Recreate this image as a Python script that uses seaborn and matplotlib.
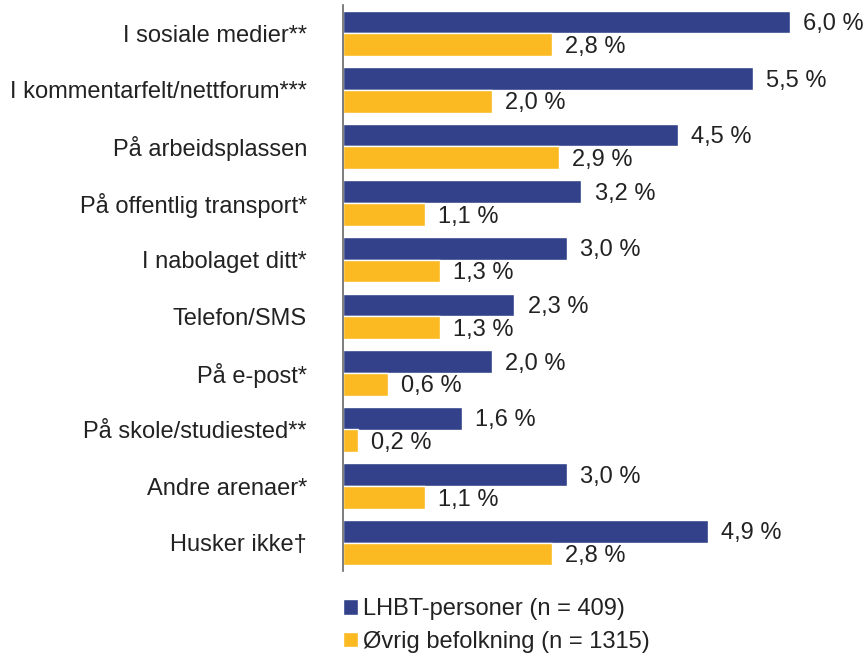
import matplotlib
matplotlib.use("Agg")
import matplotlib.pyplot as plt
import seaborn as sns
import pandas as pd

categories = [
    "I sosiale medier**",
    "I kommentarfelt/nettforum***",
    "På arbeidsplassen",
    "På offentlig transport*",
    "I nabolaget ditt*",
    "Telefon/SMS",
    "På e-post*",
    "På skole/studiested**",
    "Andre arenaer*",
    "Husker ikke†",
]
lhbt = [6.0, 5.5, 4.5, 3.2, 3.0, 2.3, 2.0, 1.6, 3.0, 4.9]
ovrig = [2.8, 2.0, 2.9, 1.1, 1.3, 1.3, 0.6, 0.2, 1.1, 2.8]
series = ["LHBT-personer (n = 409)", "Øvrig befolkning (n = 1315)"]
colors = ["#33418A", "#FBBA22"]

rows = []
for c, a, b in zip(categories, lhbt, ovrig):
    rows.append({"cat": c, "val": a, "grp": series[0]})
    rows.append({"cat": c, "val": b, "grp": series[1]})
df = pd.DataFrame(rows)

sns.set_theme(style="white")
plt.rcParams["font.family"] = ["Liberation Sans", "DejaVu Sans"]

FS = 17
fig = plt.figure(figsize=(8.66, 6.54), dpi=100)
ax = fig.add_axes([343/866, 1 - 571/654, 1 - 343/866, (571 - 5)/654])

sns.barplot(data=df, y="cat", x="val", hue="grp", order=categories,
            hue_order=series, palette=colors, width=0.8, saturation=1,
            orient="h", ax=ax, legend=True)

ax.set_xlim(0, (866 - 343) / 74.5)
ax.set_ylim(9.5, -0.5)
ax.set_xlabel("")
ax.set_ylabel("")
ax.set_xticks([])
ax.tick_params(axis="y", length=0, pad=26, labelsize=FS, labelcolor="#222222")
for lbl in ax.get_yticklabels():
    lbl.set_va("center_baseline")
for s in ["top", "right", "bottom"]:
    ax.spines[s].set_visible(False)
ax.spines["left"].set_color("#666666")
ax.spines["left"].set_linewidth(1.2)

for cont in ax.containers:
    for bar, v in zip(cont, cont.datavalues):
        y = bar.get_y() + bar.get_height() / 2
        ax.annotate(f"{v:.1f} %".replace(".", ","), xy=(v, y),
                    xytext=(9.5, -1.5), textcoords="offset points",
                    ha="left", va="center", fontsize=FS, color="#222222",
                    annotation_clip=False)

leg = ax.legend(loc="upper left", bbox_to_anchor=(343/866, 1 - 598/654),
                bbox_transform=fig.transFigure, frameon=False, fontsize=FS,
                handlelength=0.64, handleheight=0.64, handletextpad=0.2,
                borderpad=0, borderaxespad=0, labelspacing=0.46)
for t in leg.get_texts():
    t.set_color("#222222")

fig.savefig("out.png", dpi=100)
